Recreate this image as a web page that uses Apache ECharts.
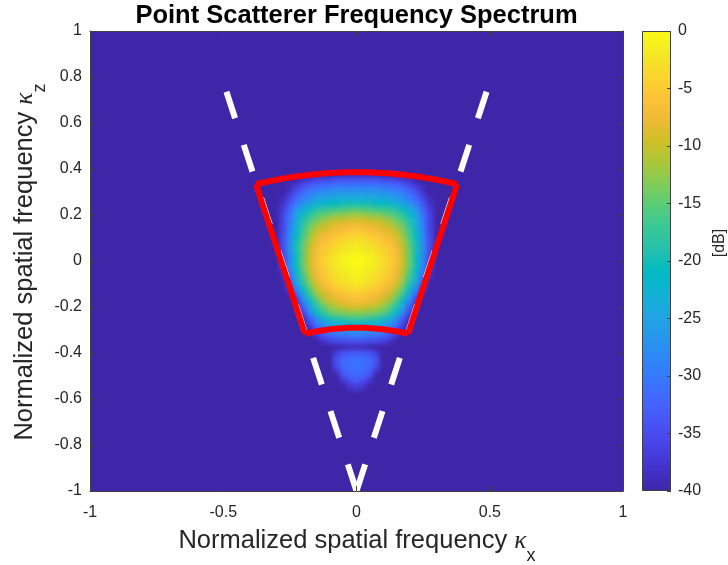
<!DOCTYPE html>
<html>
<head>
<meta charset="utf-8">
<title>Point Scatterer Frequency Spectrum</title>
<script src="https://cdn.jsdelivr.net/npm/echarts@6.0.0/dist/echarts.min.js"></script>
<style>
  html, body { margin: 0; padding: 0; background: #ffffff; }
  #stage { position: relative; width: 728px; height: 565px; overflow: hidden; }
  /* the spectrum image sits under the axes; it is smoothed and clipped to the plot box */
  #field { position: absolute; left: 0; top: 0; width: 728px; height: 565px;
           filter: blur(2.3px); clip-path: inset(31px 105px 74px 90px); }
  #main  { position: absolute; left: 0; top: 0; width: 728px; height: 565px; }
</style>
</head>
<body>
<div id="stage">
  <div id="field"></div>
  <div id="main"></div>
</div>
<script>
// ---- spectrum samples (dB), one row per kz value, columns follow kxColumns ----
const kxColumns = [-0.275, -0.25, -0.225, -0.2, -0.175, -0.15, -0.125, -0.1, -0.075, -0.05, -0.025,
                   0, 0.025, 0.05, 0.075, 0.1, 0.125, 0.15, 0.175, 0.2, 0.225, 0.25, 0.275];
const kzRows = [0.375, 0.35, 0.325, 0.3, 0.275, 0.25, 0.225, 0.2, 0.175, 0.15, 0.125, 0.1, 0.075, 0.05, 0.025,
                0, -0.025, -0.05, -0.075, -0.1, -0.125, -0.15, -0.175, -0.2, -0.225, -0.25, -0.275, -0.3,
                -0.325, -0.35, -0.375, -0.4, -0.425, -0.45, -0.475, -0.5, -0.525, -0.55];
const spectrumDb = [
  [-40,-40,-40,-40,-40,-40,-40,-40,-39,-39,-39,-39,-39,-39,-39,-40,-40,-40,-40,-40,-40,-40,-40],
  [-40,-40,-40,-38,-37,-36,-35,-35,-34,-34,-34,-34,-34,-34,-34,-35,-35,-36,-37,-38,-40,-40,-40],
  [-40,-39,-37,-35,-33,-32,-31,-31,-30,-30,-30,-30,-30,-30,-30,-31,-31,-32,-33,-35,-37,-39,-40],
  [-40,-38,-35,-32,-30,-29,-28,-28,-27,-27,-27,-26.5,-27,-27,-27,-28,-28,-29,-30,-32,-35,-38,-40],
  [-39,-36,-32,-30,-28,-26,-25,-25,-24,-24,-24,-23.5,-24,-24,-24,-25,-25,-26,-28,-30,-32,-36,-39],
  [-38,-34,-30,-27,-25,-23,-22,-21,-21,-20,-20,-20,-20,-20,-21,-21,-22,-23,-25,-27,-30,-34,-38],
  [-37,-32,-27,-24,-21,-19,-18,-17,-17,-16,-16,-15.5,-16,-16,-17,-17,-18,-19,-21,-24,-27,-32,-37],
  [-36,-31,-25,-21,-18,-16,-15,-14,-13,-13,-12,-12,-12,-13,-13,-14,-15,-16,-18,-21,-25,-31,-36],
  [-36,-30,-24,-19,-16,-14,-12,-11,-10,-10,-9,-9,-9,-10,-10,-11,-12,-14,-16,-19,-24,-30,-36],
  [-36,-29,-23,-18,-14,-12,-10,-9,-8,-7,-7,-6.5,-7,-7,-8,-9,-10,-12,-14,-18,-23,-29,-36],
  [-35.5,-28.5,-22,-17,-13,-10,-8.5,-7.5,-6.5,-6,-5,-5,-5,-6,-6.5,-7.5,-8.5,-10,-13,-17,-22,-28.5,-35.5],
  [-35,-28,-21,-16,-12,-9,-7.3,-6,-5,-4.3,-3.7,-3.5,-3.7,-4.3,-5,-6,-7.3,-9,-12,-16,-21,-28,-35],
  [-35,-27.5,-20,-15,-11,-8,-6,-5,-4,-3,-2.5,-2.2,-2.5,-3,-4,-5,-6,-8,-11,-15,-20,-27.5,-35],
  [-35,-27,-20,-14.5,-10,-7,-5,-4,-3,-2,-1.5,-1.2,-1.5,-2,-3,-4,-5,-7,-10,-14.5,-20,-27,-35],
  [-36,-28.5,-20.5,-14.7,-10,-6.7,-4.7,-3.3,-2.2,-1.2,-0.7,-0.4,-0.7,-1.2,-2.2,-3.3,-4.7,-6.7,-10,-14.7,-20.5,-28.5,-36],
  [-36.4,-28.4,-20.4,-14.4,-9.8,-6.4,-4.3,-2.9,-1.8,-0.9,-0.3,0,-0.3,-0.9,-1.8,-2.9,-4.3,-6.4,-9.8,-14.4,-20.4,-28.4,-36.4],
  [-36.5,-28.5,-20.5,-14.5,-10,-6.6,-4.5,-3,-2,-1,-0.5,-0.2,-0.5,-1,-2,-3,-4.5,-6.6,-10,-14.5,-20.5,-28.5,-36.5],
  [-38,-30,-22,-15.7,-10.7,-7.2,-5,-3.6,-2.5,-1.5,-0.9,-0.6,-0.9,-1.5,-2.5,-3.6,-5,-7.2,-10.7,-15.7,-22,-30,-38],
  [-39,-31.6,-23.5,-17,-11.8,-8,-5.7,-4.2,-3.1,-2.1,-1.5,-1.2,-1.5,-2.1,-3.1,-4.2,-5.7,-8,-11.8,-17,-23.5,-31.6,-39],
  [-40,-34,-26,-18.8,-13.4,-9.4,-6.7,-5.3,-4.1,-3.1,-2.5,-2.2,-2.5,-3.1,-4.1,-5.3,-6.7,-9.4,-13.4,-18.8,-26,-34,-40],
  [-40,-37.5,-29.4,-21.4,-15.5,-11,-8.2,-6.7,-5.5,-4.4,-3.8,-3.5,-3.8,-4.4,-5.5,-6.7,-8.2,-11,-15.5,-21.4,-29.4,-37.5,-40],
  [-40,-39.5,-33,-25,-18,-13,-10,-8.3,-7,-6,-5.3,-5,-5.3,-6,-7,-8.3,-10,-13,-18,-25,-33,-39.5,-40],
  [-40,-40,-37,-29,-21.5,-16,-12,-10,-8.7,-7.5,-6.8,-6.5,-6.8,-7.5,-8.7,-10,-12,-16,-21.5,-29,-37,-40,-40],
  [-40,-40,-40,-33,-25,-19,-15,-12.5,-11,-10,-9.3,-9,-9.3,-10,-11,-12.5,-15,-19,-25,-33,-40,-40,-40],
  [-40,-40,-40,-36,-28,-21,-17,-14.8,-13.8,-13,-12.6,-12.5,-12.6,-13,-13.8,-14.8,-17,-21,-28,-36,-40,-40,-40],
  [-40,-40,-40,-39,-33,-27,-22.5,-19.7,-18.4,-17.5,-16.8,-16.5,-16.8,-17.5,-18.4,-19.7,-22.5,-27,-33,-39,-40,-40,-40],
  [-40,-40,-40,-40,-36,-30.7,-27,-24.4,-23,-22.3,-22,-21.5,-22,-22.3,-23,-24.4,-27,-30.7,-36,-40,-40,-40,-40],
  [-40,-40,-40,-40,-39,-34,-30.8,-28.5,-27.4,-26.7,-26,-26,-26,-26.7,-27.4,-28.5,-30.8,-34,-39,-40,-40,-40,-40],
  [-40,-40,-40,-40,-40,-37.5,-34,-32,-31,-30.6,-30,-30,-30,-30.6,-31,-32,-34,-37.5,-40,-40,-40,-40,-40],
  [-40,-40,-40,-40,-40,-40,-38,-36.3,-35.3,-35,-34.6,-34.5,-34.6,-35,-35.3,-36.3,-38,-40,-40,-40,-40,-40,-40],
  [-40,-40,-40,-40,-40,-40,-40,-40,-40,-39.5,-39,-39,-39,-39.5,-40,-40,-40,-40,-40,-40,-40,-40,-40],
  [-40,-40,-40,-40,-40,-40,-40,-40,-37,-34.5,-33.8,-33.5,-33.8,-34.5,-37,-40,-40,-40,-40,-40,-40,-40,-40],
  [-40,-40,-40,-40,-40,-40,-40,-40,-34.5,-32,-31.3,-31,-31.3,-32,-34.5,-40,-40,-40,-40,-40,-40,-40,-40],
  [-40,-40,-40,-40,-40,-40,-40,-40,-34.5,-31.5,-30.8,-30.5,-30.8,-31.5,-34.5,-40,-40,-40,-40,-40,-40,-40,-40],
  [-40,-40,-40,-40,-40,-40,-40,-40,-37,-32.5,-31.3,-31,-31.3,-32.5,-37,-40,-40,-40,-40,-40,-40,-40,-40],
  [-40,-40,-40,-40,-40,-40,-40,-40,-40,-34.5,-32.5,-32,-32.5,-34.5,-40,-40,-40,-40,-40,-40,-40,-40,-40],
  [-40,-40,-40,-40,-40,-40,-40,-40,-40,-38,-35,-34,-35,-38,-40,-40,-40,-40,-40,-40,-40,-40,-40],
  [-40,-40,-40,-40,-40,-40,-40,-40,-40,-40,-38,-37,-38,-40,-40,-40,-40,-40,-40,-40,-40,-40,-40]
];

// ---- axes, colour scale and overlay geometry ----
const axisRange = [-1, 1];
const xTickStep = 0.5;
const zTickStep = 0.2;
const cellStep = 0.025;
const colorRange = [-40, 0];
const colorTickStep = 5;

// dashed aperture lines, drawn from the apex upward
const apertureLeft = [[0, -1], [-0.488, 0.736]];
const apertureRight = [[0, -1], [0.488, 0.736]];

// red band-pass sector: apex, half-angle and the two radii
const sectorApex = [0, -1];
const sectorHalfAngleDeg = 15.8;
const sectorInnerRadius = 0.71;
const sectorOuterRadius = 1.386;

const parulaColors = ['#3e26a8','#4332cb','#4741e5','#4852f4','#4563fd','#3875fe','#2e87f7','#2796eb',
  '#20a5e3','#12b1d6','#02bac3','#24c1ae','#37c897','#57cc7a','#81cc59','#abc739','#d1bf27','#f0ba36',
  '#fec338','#fad62d','#f5e924','#f9fb15'];

// ---- layout ----
const PLOT = { left: 90, top: 31, width: 533, height: 460 };
const BAR = { left: 642, top: 31, width: 29, height: 460 };
const FONT = '"Liberation Sans", Arial, Helvetica, sans-serif';
const SERIF = '"Liberation Serif", "Times New Roman", serif';
const AXIS_COLOR = '#404040';
const LABEL_COLOR = '#262626';

// ---------- spectrum image (lower layer) ----------
const nCells = Math.round((axisRange[1] - axisRange[0]) / cellStep) + 1;
const cellCategories = [];
for (let i = 0; i < nCells; i++) cellCategories.push((axisRange[0] + i * cellStep).toFixed(3));
const cellIndex = k => Math.round((k - axisRange[0]) / cellStep);

const heatData = [];
kzRows.forEach((kz, r) => {
  kxColumns.forEach((kx, c) => {
    heatData.push([cellIndex(kx), cellIndex(kz), spectrumDb[r][c]]);
  });
});

const bandX = PLOT.width / (nCells - 1);
const bandY = PLOT.height / (nCells - 1);

const field = echarts.init(document.getElementById('field'), null, { renderer: 'canvas', devicePixelRatio: 1 });
field.setOption({
  animation: false,
  backgroundColor: parulaColors[0],
  grid: {
    left: PLOT.left - bandX / 2, top: PLOT.top - bandY / 2,
    width: PLOT.width + bandX, height: PLOT.height + bandY,
    outerBoundsMode: 'none', containLabel: false
  },
  xAxis: { type: 'category', data: cellCategories, show: false },
  yAxis: { type: 'category', data: cellCategories, show: false },
  visualMap: {
    type: 'continuous', show: false, min: colorRange[0], max: colorRange[1],
    dimension: 2, seriesIndex: 0, inRange: { color: parulaColors }
  },
  series: [{
    type: 'heatmap', data: heatData, progressive: 0,
    itemStyle: { borderWidth: 0 }, emphasis: { disabled: true }
  }]
});

// ---------- axes, overlays, colour bar (upper layer) ----------
const sectorRad = sectorHalfAngleDeg * Math.PI / 180;
const polar = (r, a) => [sectorApex[0] + r * Math.sin(a), sectorApex[1] + r * Math.cos(a)];
function arcPoints(r) {
  const pts = [];
  const n = 60;
  for (let i = 0; i <= n; i++) pts.push(polar(r, -sectorRad + 2 * sectorRad * i / n));
  return pts;
}
const sectorEdges = [
  arcPoints(sectorOuterRadius),
  arcPoints(sectorInnerRadius),
  [polar(sectorInnerRadius, -sectorRad), polar(sectorOuterRadius, -sectorRad)],
  [polar(sectorInnerRadius, sectorRad), polar(sectorOuterRadius, sectorRad)]
];

const colorStops = parulaColors.map((c, i) => ({ offset: 1 - i / (parulaColors.length - 1), color: c }));

const valueAxis = (extra) => Object.assign({
  type: 'value', gridIndex: 0, min: axisRange[0], max: axisRange[1],
  axisLine: { show: true, onZero: false, lineStyle: { color: AXIS_COLOR, width: 1 } },
  axisTick: { show: true, inside: true, length: 5, lineStyle: { color: AXIS_COLOR, width: 1 } },
  axisLabel: { color: LABEL_COLOR, fontSize: 16, fontFamily: FONT },
  splitLine: { show: false }, z: 5
}, extra);

const lineSeries = (pts, color, dash) => ({
  type: 'line', xAxisIndex: 0, yAxisIndex: 0, data: pts,
  showSymbol: false, symbol: 'none', silent: true, clip: true,
  lineStyle: { color: color, width: 6, type: dash || 'solid', cap: 'butt', join: 'miter' },
  z: 3
});

// axis titles: "Normalized spatial frequency" + italic kappa + lowered subscript
const measureCtx = document.createElement('canvas').getContext('2d');
function textWidth(str, font) { measureCtx.font = font; return measureCtx.measureText(str).width; }
const LABEL_SIZE = 25.5;
const mainFont = LABEL_SIZE + 'px ' + FONT;
const kappaFont = 'italic ' + LABEL_SIZE + 'px ' + SERIF;
const subFont = '18px ' + FONT;
const SUB_DROP = 15;
function kappaLabel(sub, x, y, rotation) {
  const mainText = 'Normalized spatial frequency ';
  const wMain = textWidth(mainText, mainFont);
  const wKappa = textWidth('\u03ba', kappaFont);
  const wSub = textWidth(sub, subFont);
  const x0 = -(wMain + wKappa + wSub) / 2;
  const piece = (text, font, px, py) => ({
    type: 'text', x: px, y: py, silent: true,
    style: { text: text, font: font, fill: LABEL_COLOR, align: 'left', verticalAlign: 'middle',
             textAlign: 'left', textVerticalAlign: 'middle' }
  });
  return {
    type: 'group', x: x, y: y, rotation: rotation, silent: true,
    children: [
      piece(mainText, mainFont, x0, 0),
      piece('\u03ba', kappaFont, x0 + wMain, 0),
      piece(sub, subFont, x0 + wMain + wKappa, SUB_DROP)
    ]
  };
}

const main = echarts.init(document.getElementById('main'), null, { renderer: 'canvas', devicePixelRatio: 1 });
main.setOption({
  animation: false,
  backgroundColor: 'transparent',
  textStyle: { fontFamily: FONT },
  grid: [
    { left: PLOT.left, top: PLOT.top, width: PLOT.width, height: PLOT.height, outerBoundsMode: 'none', containLabel: false },
    { left: BAR.left, top: BAR.top, width: BAR.width, height: BAR.height, outerBoundsMode: 'none', containLabel: false }
  ],
  xAxis: [
    valueAxis({ position: 'bottom', interval: xTickStep, axisLabel: { color: LABEL_COLOR, fontSize: 16, fontFamily: FONT, margin: 14 } }),
    valueAxis({ position: 'top', interval: xTickStep, axisLabel: { show: false } }),
    { type: 'category', gridIndex: 1, data: ['dB'], show: false }
  ],
  yAxis: [
    valueAxis({ position: 'left', interval: zTickStep, axisLabel: { color: LABEL_COLOR, fontSize: 16, fontFamily: FONT, margin: 8 } }),
    valueAxis({ position: 'right', interval: zTickStep, axisLabel: { show: false } }),
    {
      type: 'value', gridIndex: 1, position: 'right', min: colorRange[0], max: colorRange[1], interval: colorTickStep,
      axisLine: { show: false },
      axisTick: { show: true, inside: true, length: 4, lineStyle: { color: AXIS_COLOR, width: 1 } },
      axisLabel: { color: LABEL_COLOR, fontSize: 16, fontFamily: FONT, margin: 7 },
      splitLine: { show: false }, z: 5
    }
  ],
  series: [
    {
      type: 'bar', xAxisIndex: 2, yAxisIndex: 2, data: [colorRange[0]], barWidth: '100%', silent: true,
      itemStyle: {
        color: new echarts.graphic.LinearGradient(0, 0, 0, 1, colorStops),
        borderColor: AXIS_COLOR, borderWidth: 1
      }
    },
    lineSeries(apertureLeft, '#ffffff', [28, 28]),
    lineSeries(apertureRight, '#ffffff', [28, 28]),
    ...sectorEdges.map(pts => lineSeries(pts, '#ff0000'))
  ],
  graphic: [
    {
      type: 'text', x: 356.5, y: 16, silent: true,
      style: { text: 'Point Scatterer Frequency Spectrum', fill: '#000000',
               font: 'bold 25.5px ' + FONT, align: 'center', verticalAlign: 'middle',
               textAlign: 'center', textVerticalAlign: 'middle' }
    },
    kappaLabel('x', 357, 541, 0),
    kappaLabel('z', 25, 262, Math.PI / 2),
    {
      type: 'text', x: 720, y: 243, rotation: Math.PI / 2, silent: true,
      style: { text: '[dB]', fill: LABEL_COLOR, font: '16px ' + FONT,
               align: 'center', verticalAlign: 'middle', textAlign: 'center', textVerticalAlign: 'middle' }
    }
  ]
});
</script>
</body>
</html>
